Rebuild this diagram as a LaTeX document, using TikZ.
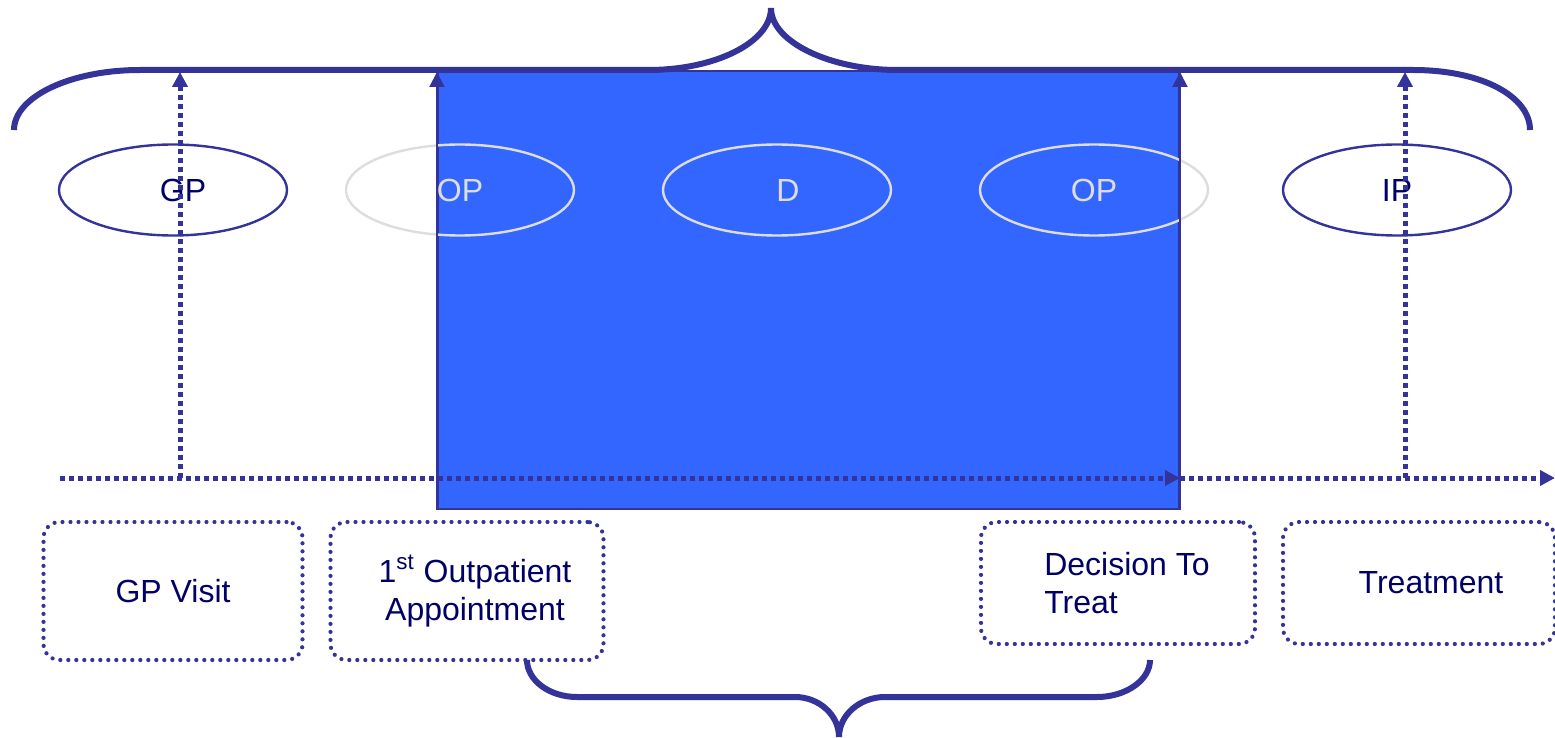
\documentclass[tikz,border=0pt]{standalone}
\usepackage{fontspec}
\setmainfont{Liberation Sans}
\usetikzlibrary{arrows.meta,shapes.geometric}
\definecolor{navy}{HTML}{000066}
\definecolor{linkblue}{HTML}{333399}
\definecolor{winblue}{HTML}{3366FF}
\definecolor{paleop}{HTML}{DDDDDD}
\begin{document}
\begin{tikzpicture}[x=0.5pt, y=-0.5pt, >={Triangle[length=7.5pt,width=7.5pt]},
  stage/.style={ellipse, draw=linkblue, line width=1.2pt, minimum width=114pt, minimum height=45.5pt, inner sep=0pt, text=navy, font=\fontsize{16pt}{19pt}\selectfont},
  faded/.style={stage, draw=paleop, text=paleop},
  event/.style={draw=linkblue, line width=2.1pt, dash pattern=on 0pt off 4pt, line cap=round, rounded corners=8pt, inner sep=0pt, align=center, text=navy, font=\fontsize{16pt}{19pt}\selectfont},
  timeline/.style={linkblue, line width=2.5pt, dash pattern=on 2.5pt off 2pt},
  brace/.style={linkblue, line width=3pt}]
  \useasboundingbox (0, 0) rectangle (1555, 738);
  % waiting window
  \node[draw=linkblue, fill=winblue, line width=1pt, anchor=north west, minimum width=370.5pt, minimum height=219pt, inner sep=0pt] (win) at (437, 70) {};
  % top brace
  \draw[brace] (14, 130) .. controls (14, 97) and (70, 70) .. (140, 70) -- (648, 70)
    .. controls (716, 70) and (771, 42) .. (771, 8)
    .. controls (771, 42) and (830, 70) .. (898, 70) -- (1413, 70)
    .. controls (1483, 70) and (1530, 97) .. (1530, 130);
  % stages
  \node[stage] (gp) at (173, 190) {\hspace*{10pt}GP};
  \node[faded] (op1) at (460, 190) {OP};
  \node[faded] (d) at (777, 190) {\hspace*{11pt}D};
  \node[faded] (op2) at (1094, 190) {OP};
  \node[stage] (ip) at (1397, 190) {IP};
  % time axis
  \coordinate (axis-start) at (60, 478);
  \coordinate (axis-end) at (1555, 478);
  \coordinate (gp-foot) at (180, 478);
  \coordinate (gp-head) at (180, 72);
  \coordinate (ip-foot) at (1405, 478);
  \coordinate (ip-head) at (1405, 72);
  \draw[timeline, ->] (gp-foot) -- (gp-head);
  \draw[timeline, ->] (ip-foot) -- (ip-head);
  \draw[linkblue, line width=1pt, ->] (win.south west) -- ([yshift=-1pt]win.north west);
  \draw[linkblue, line width=1pt, ->] (win.south east) -- ([yshift=-1pt]win.north east);
  \draw[timeline, ->] (axis-start) -- (win.east |- axis-start);
  \draw[timeline, ->] (win.east |- axis-start) -- (axis-end);
  % events
  \node[event, minimum width=129.5pt, minimum height=69pt] (visit) at (173, 591) {GP Visit};
  \node[event, minimum width=136.5pt, minimum height=69pt] (first) at (467, 591) {\hspace*{8pt}1\textsuperscript{st} Outpatient\\\hspace*{8pt}Appointment};
  \node[event, minimum width=137pt, minimum height=61pt, align=left] (dtt) at (1118, 583) {\hspace*{9pt}Decision To\\\hspace*{9pt}Treat};
  \node[event, minimum width=136pt, minimum height=61pt] (treat) at (1419, 583) {\hspace*{12pt}Treatment};
  % bottom brace
  \draw[brace] (527, 660) .. controls (527, 680) and (549, 697) .. (577, 697) -- (795, 697)
    .. controls (819, 697) and (839, 715) .. (839, 737)
    .. controls (839, 715) and (860, 697) .. (885, 697) -- (1097, 697)
    .. controls (1126, 697) and (1150, 680) .. (1150, 660);
\end{tikzpicture}
\end{document}
